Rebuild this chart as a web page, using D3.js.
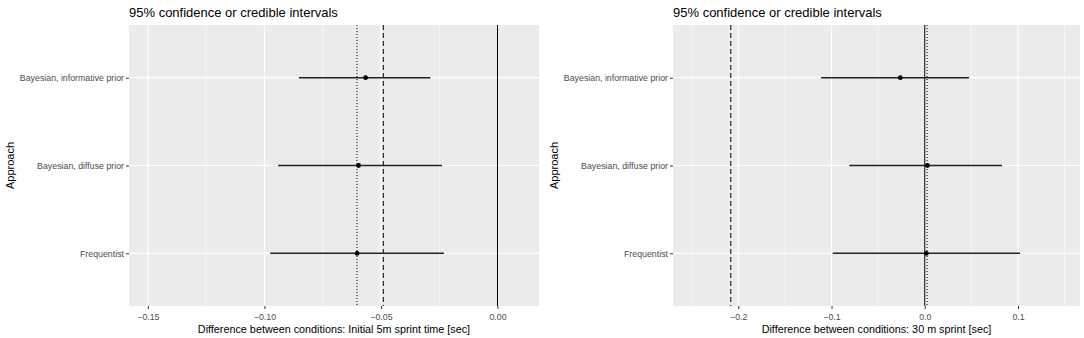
<!DOCTYPE html>
<html>
<head>
<meta charset="utf-8">
<script src="https://cdn.jsdelivr.net/npm/d3@7"></script>
<style>
  body { margin: 0; background: #fff; }
  svg { display: block; font-family: "Liberation Sans", Arial, sans-serif; }
</style>
</head>
<body>
<svg id="chart" width="1084" height="338"></svg>
<script>
// categories, top to bottom
const approaches = ["Bayesian, informative prior", "Bayesian, diffuse prior", "Frequentist"];

// left panel: initial 5m sprint time
const sprint5Est   = [-0.0566, -0.0596, -0.0602];
const sprint5Lower = [-0.0852, -0.0941, -0.0975];
const sprint5Upper = [-0.0288, -0.0238, -0.0230];
const sprint5Refs  = { zero: 0, dashed: -0.049, dotted: -0.0603 };
const sprint5Ticks = [-0.15, -0.10, -0.05, 0.00];
const sprint5Minor = [-0.125, -0.075, -0.025];

// right panel: 30 m sprint
const sprint30Est   = [-0.0262, 0.0028, 0.0017];
const sprint30Lower = [-0.1112, -0.0809, -0.0987];
const sprint30Upper = [0.0475, 0.0829, 0.1022];
const sprint30Refs  = { zero: 0, dashed: -0.208, dotted: 0.0025 };
const sprint30Ticks = [-0.2, -0.1, 0.0, 0.1];
const sprint30Minor = [-0.25, -0.15, -0.05, 0.05, 0.15];

const svg = d3.select("#chart");

function drawPanel(opts) {
    const { left, right, top, bottom, domain, est, lower, upper, refs, ticks, minor, fmt, xTitle, yTitleX } = opts;

    const x = d3.scaleLinear().domain(domain).range([left, right]);
    const y = d3.scalePoint().domain(approaches).range([top, bottom]).padding(0.6);

    const g = svg.append("g");

    // panel background
    g.append("rect")
        .attr("x", left).attr("y", top)
        .attr("width", right - left).attr("height", bottom - top)
        .attr("fill", "#EBEBEB");

    // minor grid
    g.selectAll(null).data(minor).enter().append("line")
        .attr("x1", d => x(d)).attr("x2", d => x(d))
        .attr("y1", top).attr("y2", bottom)
        .attr("stroke", "#fff").attr("stroke-width", 0.6);

    // major grid
    g.selectAll(null).data(ticks).enter().append("line")
        .attr("x1", d => x(d)).attr("x2", d => x(d))
        .attr("y1", top).attr("y2", bottom)
        .attr("stroke", "#fff").attr("stroke-width", 1.2);

    g.selectAll(null).data(approaches).enter().append("line")
        .attr("x1", left).attr("x2", right)
        .attr("y1", d => y(d)).attr("y2", d => y(d))
        .attr("stroke", "#fff").attr("stroke-width", 1.2);

    // reference lines
    const vline = (v, dash) => g.append("line")
        .attr("x1", x(v)).attr("x2", x(v))
        .attr("y1", top).attr("y2", bottom)
        .attr("stroke", "#000").attr("stroke-width", 1)
        .attr("stroke-dasharray", dash);
    vline(refs.zero, null);
    vline(refs.dashed, "5,3");
    vline(refs.dotted, "1,2");

    // intervals
    g.selectAll(null).data(approaches).enter().append("line")
        .attr("x1", (d, i) => x(lower[i])).attr("x2", (d, i) => x(upper[i]))
        .attr("y1", d => y(d)).attr("y2", d => y(d))
        .attr("stroke", "#222").attr("stroke-width", 1.4);

    g.selectAll(null).data(approaches).enter().append("circle")
        .attr("cx", (d, i) => x(est[i])).attr("cy", d => y(d))
        .attr("r", 2.4).attr("fill", "#000");

    // x axis
    const xAxis = g.append("g")
        .attr("transform", `translate(0,${bottom})`)
        .call(d3.axisBottom(x).tickValues(ticks).tickFormat(fmt).tickSize(3).tickPadding(5));
    xAxis.select(".domain").remove();
    xAxis.selectAll(".tick line").attr("stroke", "#333");
    xAxis.selectAll("text").attr("fill", "#4D4D4D").attr("font-size", "8.8px");

    // y axis
    const yAxis = g.append("g")
        .attr("transform", `translate(${left},0)`)
        .call(d3.axisLeft(y).tickSize(3).tickPadding(2));
    yAxis.select(".domain").remove();
    yAxis.selectAll(".tick line").attr("stroke", "#333");
    yAxis.selectAll("text").attr("fill", "#4D4D4D").attr("font-size", "8.8px");

    // titles
    g.append("text")
        .attr("x", left).attr("y", 17)
        .attr("font-size", "13px").attr("fill", "#000")
        .text("95% confidence or credible intervals");

    g.append("text")
        .attr("x", (left + right) / 2).attr("y", 333)
        .attr("text-anchor", "middle")
        .attr("font-size", "10.8px").attr("fill", "#000")
        .text(xTitle);

    g.append("text")
        .attr("transform", `translate(${yTitleX},${(top + bottom) / 2}) rotate(-90)`)
        .attr("text-anchor", "middle")
        .attr("font-size", "11px").attr("fill", "#000")
        .text("Approach");
}

drawPanel({
    left: 129, right: 539, top: 25, bottom: 306,
    domain: [-0.1581, 0.0178],
    est: sprint5Est, lower: sprint5Lower, upper: sprint5Upper,
    refs: sprint5Refs, ticks: sprint5Ticks, minor: sprint5Minor,
    fmt: d3.format(".2f"),
    xTitle: "Difference between conditions: Initial 5m sprint time [sec]",
    yTitleX: 14
});

drawPanel({
    left: 673, right: 1080, top: 25, bottom: 306,
    domain: [-0.270, 0.1665],
    est: sprint30Est, lower: sprint30Lower, upper: sprint30Upper,
    refs: sprint30Refs, ticks: sprint30Ticks, minor: sprint30Minor,
    fmt: d3.format(".1f"),
    xTitle: "Difference between conditions: 30 m sprint [sec]",
    yTitleX: 558
});
</script>
</body>
</html>
